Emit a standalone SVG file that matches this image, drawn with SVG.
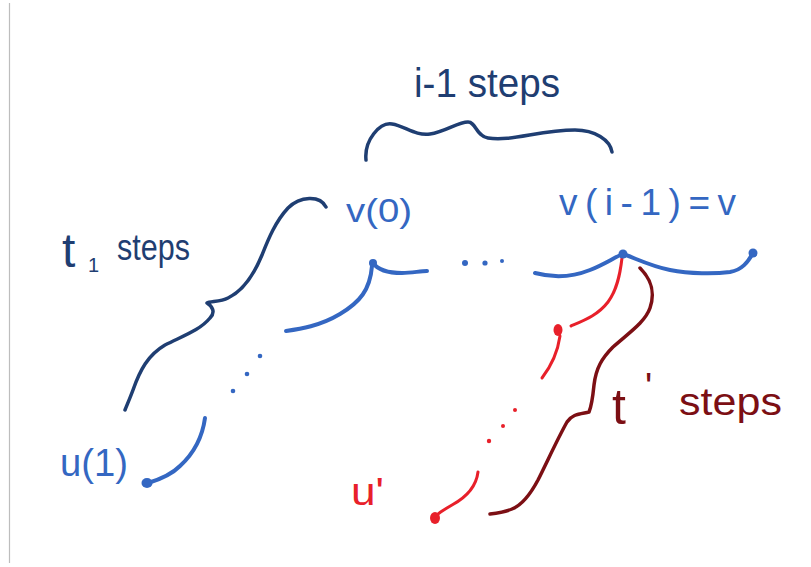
<svg xmlns="http://www.w3.org/2000/svg" width="811" height="567" viewBox="0 0 811 567">
<style>
  .blue{stroke:#3467c2;fill:none;stroke-width:4;stroke-linecap:round;stroke-linejoin:round}
  .navy{stroke:#1f3e72;fill:none;stroke-width:3.5;stroke-linecap:round;stroke-linejoin:round}
  .red{stroke:#e8202a;fill:none;stroke-width:3;stroke-linecap:round;stroke-linejoin:round}
  .dred{stroke:#7c0f14;fill:none;stroke-width:3.5;stroke-linecap:round;stroke-linejoin:round}
  .bdot{fill:#3467c2}
  .rdot{fill:#e8202a}
  .txt{font-family:"Liberation Sans","DejaVu Sans",sans-serif}
  .tb{fill:#3467c2}
  .tn{fill:#1f3e72}
  .tr{fill:#e8202a}
  .td{fill:#7c0f14}
</style>
<rect width="811" height="567" fill="#ffffff"/>
<line x1="9.5" y1="3" x2="9.5" y2="563" stroke="#bdbdbd" stroke-width="1.2"/>

<g id="label-i-1-steps">
  <path class="navy" d="M366,160 C364,140 380,122 392,124 C405,126 415,136 430,134 C445,132 458,122 468,122 C476,122 476,136 488,138 C510,142 540,130 575,130 C595,130 610,140 612,152"/>
  <text class="txt tn" x="414" y="97" font-size="40" textLength="146" lengthAdjust="spacingAndGlyphs">i-1 steps</text>
</g>

<g id="label-t1-steps">
  <path class="navy" d="M326,207 C320,195 300,196 288,208 C275,222 268,240 262,255 C255,272 245,290 228,298 C220,302 210,301 207,303 C212,306 216,312 210,318 C200,330 185,335 165,345 C148,355 140,370 133,390 C130,398 127,405 125,410"/>
  <text class="txt tn" x="62" y="267" font-size="48">t<tspan font-size="20" x="88" y="272">1</tspan><tspan font-size="37" x="117" y="260" textLength="73" lengthAdjust="spacingAndGlyphs">steps</tspan></text>
</g>

<g id="label-tprime-steps">
  <path class="dred" d="M640,268 C650,278 656,290 650,308 C645,322 630,332 613,347 C602,358 596,368 594,385 C593,395 592,405 589,412 C580,414 572,414 567,422 C558,438 548,460 538,480 C530,495 522,505 512,509 C505,512 498,513 490,514"/>
  <text class="txt td" x="612" y="424" font-size="50">t<tspan font-size="38" x="645" y="400">'</tspan><tspan font-size="39" x="679" y="415" textLength="103" lengthAdjust="spacingAndGlyphs">steps</tspan></text>
</g>

<g id="connectors">
  <path class="blue" d="M373,263 C378,270 390,273 402,273 C412,273 420,271 427,271"/>
  <path class="blue" d="M372,266 C370,290 360,302 340,314 C320,326 300,329 286,331"/>
  <circle class="bdot" cx="260" cy="356" r="2.3"/>
  <circle class="bdot" cx="247" cy="374" r="2.3"/>
  <circle class="bdot" cx="233" cy="391" r="2.3"/>
  <path class="blue" d="M205,418 C202,440 192,455 180,466 C170,476 158,480 148,483"/>
  <circle class="bdot" cx="465" cy="263" r="3"/>
  <circle class="bdot" cx="485" cy="263" r="2.6"/>
  <circle class="bdot" cx="502" cy="261" r="2"/>
  <path class="blue" d="M535,273 C550,277 570,278 590,270 C605,264 615,257 623,254 C635,258 650,266 670,270 C690,274 715,274 730,272 C742,270 748,262 753,253"/>
  <path class="red" d="M622,258 C620,275 617,290 608,302 C598,315 585,320 571,326"/>
  <path class="red" d="M560,336 C558,350 552,365 542,378"/>
  <circle class="rdot" cx="515" cy="410" r="2"/>
  <circle class="rdot" cx="503" cy="426" r="2"/>
  <circle class="rdot" cx="489" cy="441" r="2.2"/>
  <path class="red" d="M478,472 C476,488 465,498 452,505 C445,509 440,512 437,515"/>
</g>

<g id="node-v0">
  <circle class="bdot" cx="373" cy="263" r="4"/>
  <text class="txt tb" x="346" y="222" font-size="34" textLength="66" lengthAdjust="spacingAndGlyphs">v(0)</text>
</g>

<g id="node-v">
  <circle class="bdot" cx="623" cy="254" r="4.5"/>
  <text class="txt tb" x="559" y="215" font-size="37" textLength="177">v(i-1)=v</text>
</g>

<g id="node-end">
  <circle class="bdot" cx="753" cy="253" r="4.5"/>
</g>

<g id="node-u1">
  <ellipse class="bdot" cx="147" cy="483" rx="5.5" ry="5"/>
  <text class="txt tb" x="60" y="476" font-size="38" textLength="68" lengthAdjust="spacingAndGlyphs">u(1)</text>
</g>

<g id="node-mid">
  <ellipse class="rdot" cx="558" cy="330" rx="4.5" ry="6"/>
</g>

<g id="node-uprime">
  <ellipse class="rdot" cx="435" cy="518" rx="5" ry="6"/>
  <text class="txt tr" x="351" y="505" font-size="38" textLength="33" lengthAdjust="spacingAndGlyphs">u'</text>
</g>
</svg>
